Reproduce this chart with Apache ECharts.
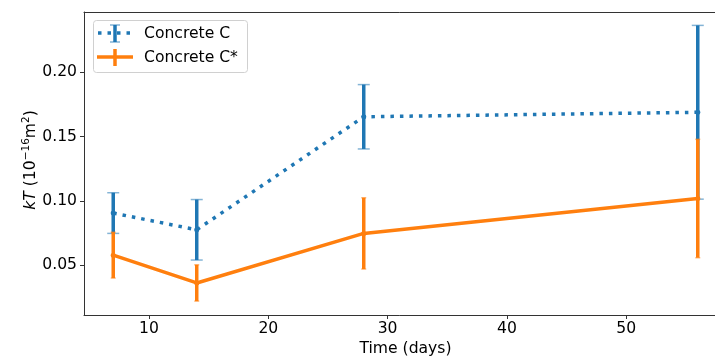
<!DOCTYPE html>
<html>
<head>
<meta charset="utf-8">
<script src="https://cdn.jsdelivr.net/npm/echarts@6/dist/echarts.min.js"></script>
<style>
  html, body { margin: 0; padding: 0; background: #fff; }
  #chart { width: 715px; height: 358px; }
</style>
</head>
<body>
<div id="chart"></div>
<script>
// Curing time (days) and permeability kT for the two concretes
const days = [7, 14, 28, 56];
const concreteC = [0.0905, 0.0775, 0.1653, 0.1688];
const concreteCErr = [0.0158, 0.0235, 0.0250, 0.0675];
const concreteCStar = [0.0578, 0.0362, 0.0747, 0.1018];
const concreteCStarErr = [0.0178, 0.0141, 0.0277, 0.0460];
const seriesNames = ['Concrete C', 'Concrete C*'];
const xTicks = [10, 20, 30, 40, 50];
const yTicks = [0.05, 0.10, 0.15, 0.20];

const BLUE = '#1f77b4';
const ORANGE = '#ff7f0e';
const BLUE_CAP = 'rgba(31,119,180,0.55)';
const ORANGE_CAP = 'rgba(255,127,14,0.55)';
const FONT = 'DejaVu Sans';
const FS = 15.6;

function lineData(vals) { return days.map((d, i) => [d, vals[i]]); }
function errData(vals, errs) { return days.map((d, i) => [d, vals[i] - errs[i], vals[i] + errs[i]]); }

function errorBars(color, capColor, capHalf, width) {
  return function (params, api) {
    const x = api.value(0);
    const lo = api.coord([x, api.value(1)]);
    const hi = api.coord([x, api.value(2)]);
    return {
      type: 'group',
      children: [
        { type: 'line', shape: { x1: lo[0], y1: lo[1], x2: hi[0], y2: hi[1] },
          style: { stroke: color, lineWidth: width } },
        { type: 'line', shape: { x1: lo[0] - capHalf, y1: lo[1], x2: lo[0] + capHalf, y2: lo[1] },
          style: { stroke: capColor, lineWidth: 1.5 } },
        { type: 'line', shape: { x1: hi[0] - capHalf, y1: hi[1], x2: hi[0] + capHalf, y2: hi[1] },
          style: { stroke: capColor, lineWidth: 1.5 } }
      ]
    };
  };
}

const chart = echarts.init(document.getElementById('chart'), null, { renderer: 'canvas' });

const spine = { color: '#333', width: 1 };

chart.setOption({
  animation: false,
  textStyle: { fontFamily: FONT },
  grid: { left: 84, top: 12, width: 643, height: 303, outerBoundsMode: 'none', containLabel: false },
  xAxis: [
    {
      type: 'value', min: 4.55, max: 58.45, position: 'bottom',
      name: 'Time (days)', nameLocation: 'middle', nameGap: 26, nameMoveOverlap: false,
      nameTextStyle: { fontSize: FS, color: '#000', fontFamily: FONT },
      axisLine: { show: true, onZero: false, lineStyle: spine },
      axisTick: { show: true, inside: false, length: 4, customValues: xTicks, lineStyle: { color: '#333' } },
      axisLabel: { customValues: xTicks, fontSize: FS, color: '#000', margin: 6, fontFamily: FONT },
      splitLine: { show: false }
    },
    {
      // top spine of the frame
      type: 'value', min: 4.55, max: 58.45, position: 'top',
      axisLine: { show: true, onZero: false, lineStyle: spine },
      axisTick: { show: false }, axisLabel: { show: false }, splitLine: { show: false }
    }
  ],
  yAxis: {
    type: 'value', min: 0.0113, max: 0.2467,
    name: '{it|kT} (10{sup|−16}m{sup|2})', nameLocation: 'middle', nameGap: 43, nameRotate: 90,
    nameMoveOverlap: false,
    nameTextStyle: {
      fontSize: FS, color: '#000', fontFamily: FONT, lineHeight: 20, padding: [0, 0, 0, 7],
      rich: {
        it: { fontStyle: 'italic', fontSize: FS, fontFamily: FONT, lineHeight: 20 },
        sup: { fontSize: 10.5, fontFamily: FONT, verticalAlign: 'top', lineHeight: 20 }
      }
    },
    axisLine: { show: true, onZero: false, lineStyle: spine },
    axisTick: { show: true, inside: false, length: 4, customValues: yTicks, lineStyle: { color: '#333' } },
    axisLabel: { customValues: yTicks, fontSize: FS, color: '#000', margin: 7, fontFamily: FONT,
                 formatter: v => v.toFixed(2) },
    splitLine: { show: false }
  },
  series: [
    {
      name: seriesNames[0], type: 'line', data: lineData(concreteC), z: 2,
      lineStyle: { color: BLUE, width: 3.5, type: [3.5, 6], cap: 'butt' },
      symbol: 'circle', symbolSize: 5, itemStyle: { color: BLUE }
    },
    {
      name: seriesNames[0] + ' err', type: 'custom', data: errData(concreteC, concreteCErr), z: 3,
      renderItem: errorBars(BLUE, BLUE_CAP, 6, 3.5)
    },
    {
      name: seriesNames[1], type: 'line', data: lineData(concreteCStar), z: 4,
      lineStyle: { color: ORANGE, width: 3.5 },
      symbol: 'circle', symbolSize: 5, itemStyle: { color: ORANGE }
    },
    {
      name: seriesNames[1] + ' err', type: 'custom', data: errData(concreteCStar, concreteCStarErr), z: 5,
      renderItem: errorBars(ORANGE, ORANGE_CAP, 2.5, 3.5)
    }
  ],
  graphic: [
    { type: 'rect', left: 93, top: 20, shape: { width: 154, height: 52, r: 3 }, z: 10,
      style: { fill: 'rgba(255,255,255,0.8)', stroke: '#d0d0d0', lineWidth: 1 } },
    // entry 1: dotted line with error bar
    { type: 'line', z: 11, shape: { x1: 98, y1: 33, x2: 132, y2: 33 },
      style: { stroke: BLUE, lineWidth: 3.5, lineDash: [3.5, 6] } },
    { type: 'line', z: 11, shape: { x1: 115, y1: 25, x2: 115, y2: 42 }, style: { stroke: BLUE, lineWidth: 3.5 } },
    { type: 'line', z: 11, shape: { x1: 110, y1: 25, x2: 120, y2: 25 }, style: { stroke: BLUE_CAP, lineWidth: 1.5 } },
    { type: 'line', z: 11, shape: { x1: 110, y1: 42, x2: 120, y2: 42 }, style: { stroke: BLUE_CAP, lineWidth: 1.5 } },
    { type: 'text', z: 11, x: 144, y: 34,
      style: { text: seriesNames[0], fontSize: FS, fontFamily: FONT, fill: '#000', verticalAlign: 'middle' } },
    // entry 2: solid line with error bar
    { type: 'line', z: 11, shape: { x1: 97, y1: 57, x2: 133, y2: 57 }, style: { stroke: ORANGE, lineWidth: 3.5 } },
    { type: 'line', z: 11, shape: { x1: 115, y1: 49, x2: 115, y2: 66 }, style: { stroke: ORANGE, lineWidth: 3.5 } },
    { type: 'text', z: 11, x: 144, y: 58,
      style: { text: seriesNames[1], fontSize: FS, fontFamily: FONT, fill: '#000', verticalAlign: 'middle' } }
  ]
});
</script>
</body>
</html>
